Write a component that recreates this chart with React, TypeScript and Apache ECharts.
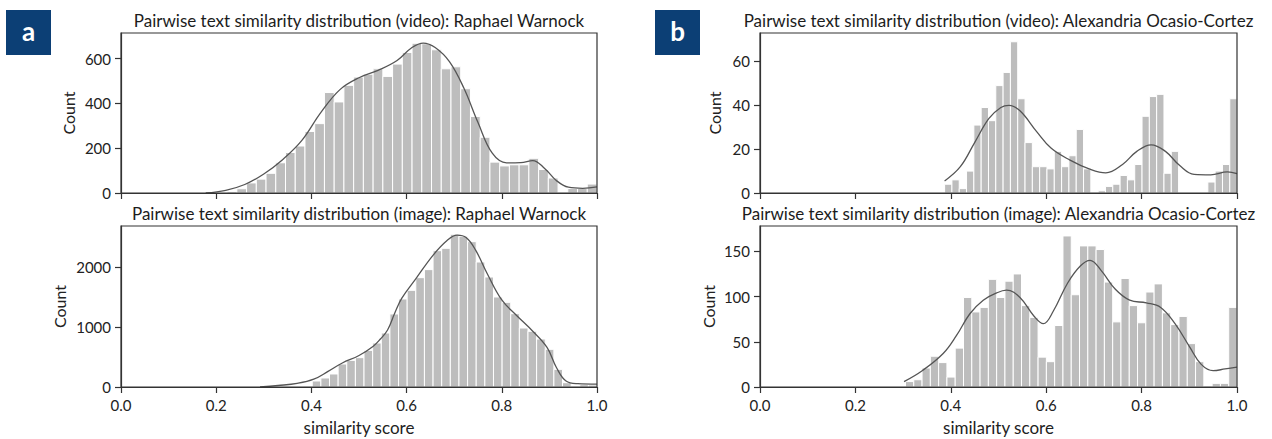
import React, { useEffect, useRef } from "react";
import * as echarts from "echarts";

// ---------- DATA ----------
// Panel a (top): video, Raphael Warnock
const warnockVideoBinStart = 0.182;
const warnockVideoBinWidth = 0.02045;
const warnockVideoCounts = [1, 2, 6, 19, 45, 62, 88, 135, 181, 210, 275, 310, 449, 407, 481, 518, 531, 555, 521, 576, 628, 669, 667, 640, 555, 564, 466, 342, 249, 138, 121, 126, 126, 155, 105, 67, 3, 20, 20, 40];
const warnockVideoKdeX = [0.178, 0.22, 0.26, 0.3, 0.34, 0.38, 0.42, 0.46, 0.5, 0.54, 0.58, 0.61, 0.635, 0.66, 0.69, 0.72, 0.75, 0.78, 0.81, 0.84, 0.865, 0.89, 0.915, 0.94, 0.97, 1.0];
const warnockVideoKdeY = [0, 12, 38, 85, 150, 235, 360, 462, 515, 548, 592, 648, 670, 650, 587, 470, 315, 178, 135, 136, 145, 110, 55, 26, 21, 27];

// Panel a (bottom): image, Raphael Warnock
const warnockImageBinStart = 0.293;
const warnockImageBinWidth = 0.01813;
const warnockImageCounts = [1, 2, 3, 5, 8, 12, 100, 150, 217, 383, 444, 489, 611, 733, 900, 1217, 1467, 1611, 1822, 1956, 2272, 2311, 2545, 2511, 2422, 2083, 1833, 1500, 1411, 1222, 983, 928, 800, 628, 294, 72, 11, 39, 33];
const warnockImageKdeX = [0.292, 0.33, 0.37, 0.405, 0.435, 0.465, 0.5, 0.53, 0.545, 0.56, 0.575, 0.59, 0.62, 0.655, 0.685, 0.706, 0.725, 0.745, 0.77, 0.8, 0.83, 0.865, 0.895, 0.915, 0.935, 0.96, 1.0];
const warnockImageKdeY = [0, 25, 60, 130, 260, 400, 525, 680, 800, 950, 1230, 1480, 1810, 2190, 2440, 2530, 2490, 2280, 1880, 1450, 1200, 930, 660, 320, 100, 55, 48];

// Panel b (top): video, Alexandria Ocasio-Cortez
const aocVideoBinStart = 0.387;
const aocVideoBinWidth = 0.01533;
const aocVideoCounts = [4, 6, 2, 10, 31, 39, 33, 49, 55, 69, 43, 23, 12, 12, 11, 19, 12, 17, 29, 11, 0, 1, 3, 4, 8, 6, 13, 35, 44, 45, 9, 19, 0, 0, 0, 0, 5, 10, 13, 43];
const aocVideoKdeX = [0.387, 0.42, 0.45, 0.48, 0.505, 0.522, 0.545, 0.58, 0.61, 0.65, 0.69, 0.725, 0.76, 0.79, 0.82, 0.85, 0.88, 0.91, 0.945, 0.98, 1.0];
const aocVideoKdeY = [5.5, 12, 23, 34, 39, 40, 37.5, 28, 20.5, 15, 11, 9.2, 13, 19, 22, 19, 12.5, 8.5, 8.3, 9.6, 8.8];

// Panel b (bottom): image, Alexandria Ocasio-Cortez
const aocImageBinStart = 0.305;
const aocImageBinWidth = 0.017375;
const aocImageCounts = [6, 8, 21, 34, 27, 11, 43, 99, 83, 88, 119, 99, 117, 125, 90, 77, 33, 28, 68, 167, 102, 156, 156, 152, 116, 72, 120, 90, 71, 105, 114, 82, 69, 78, 48, 28, 1, 4, 4, 88];
const aocImageKdeX = [0.302, 0.34, 0.384, 0.412, 0.44, 0.468, 0.496, 0.517, 0.545, 0.575, 0.594, 0.615, 0.645, 0.672, 0.692, 0.715, 0.745, 0.775, 0.81, 0.84, 0.87, 0.9, 0.925, 0.95, 0.975, 1.0];
const aocImageKdeY = [6, 18, 37, 57, 81, 96, 104, 107, 99, 78, 70, 84, 115, 134, 140, 129, 108, 96, 93, 88, 70, 45, 25, 18, 20, 22];

const xTicks = [0, 0.2, 0.4, 0.6, 0.8, 1.0];
const warnockVideoYTicks = [0, 200, 400, 600];
const warnockImageYTicks = [0, 1000, 2000];
const aocVideoYTicks = [0, 20, 40, 60];
const aocImageYTicks = [0, 50, 100, 150];

const titles = [
  "Pairwise text similarity distribution (video): Raphael Warnock",
  "Pairwise text similarity distribution (image): Raphael Warnock",
  "Pairwise text similarity distribution (video): Alexandria Ocasio-Cortez",
  "Pairwise text similarity distribution (image): Alexandria Ocasio-Cortez",
];

// ---------- LAYOUT ----------
const FONT = "Lato, 'Open Sans', sans-serif";
const panels = [
  { start: warnockVideoBinStart, width: warnockVideoBinWidth, counts: warnockVideoCounts, kx: warnockVideoKdeX, ky: warnockVideoKdeY, yTicks: warnockVideoYTicks, yMax: 715, grid: { left: 121, top: 33, width: 476, height: 160 }, bottom: false, nameGap: 45 },
  { start: warnockImageBinStart, width: warnockImageBinWidth, counts: warnockImageCounts, kx: warnockImageKdeX, ky: warnockImageKdeY, yTicks: warnockImageYTicks, yMax: 2683, grid: { left: 121, top: 226, width: 476, height: 161 }, bottom: true, nameGap: 54 },
  { start: aocVideoBinStart, width: aocVideoBinWidth, counts: aocVideoCounts, kx: aocVideoKdeX, ky: aocVideoKdeY, yTicks: aocVideoYTicks, yMax: 73, grid: { left: 760, top: 33, width: 477, height: 160 }, bottom: false, nameGap: 38 },
  { start: aocImageBinStart, width: aocImageBinWidth, counts: aocImageCounts, kx: aocImageKdeX, ky: aocImageKdeY, yTicks: aocImageYTicks, yMax: 178, grid: { left: 760, top: 226, width: 477, height: 161 }, bottom: true, nameGap: 44 },
];

export default function App() {
  const ref = useRef<HTMLDivElement>(null);
  useEffect(() => {
    if (!ref.current) return;
    const chart = echarts.init(ref.current, undefined, { renderer: "svg" });
    const axisColor = "#333";
    const textColor = "#222";

    const grid = panels.map((p) => ({
      ...p.grid,
      show: true,
      z: 5,
      backgroundColor: "transparent",
      borderColor: axisColor,
      borderWidth: 1.2,
      containLabel: false,
    }));

    const xAxis = panels.map((p, i) => ({
      type: "value",
      gridIndex: i,
      min: 0,
      max: 1,
      interval: 0.2,
      z: 6,
      axisLine: { show: true, onZero: false, lineStyle: { color: axisColor, width: 1.2 } },
      axisTick: { show: true, inside: false, length: 6, lineStyle: { color: axisColor, width: 1.2 }, customValues: xTicks },
      axisLabel: {
        show: p.bottom,
        customValues: xTicks,
        formatter: (v: number) => v.toFixed(1),
        fontSize: 15,
        fontFamily: FONT,
        color: textColor,
        margin: 10,
      },
      splitLine: { show: false },
      name: p.bottom ? "similarity score" : "",
      nameLocation: "middle",
      nameGap: 32,
      nameTextStyle: { fontSize: 17, fontFamily: FONT, color: textColor },
    }));

    const yAxis = panels.map((p, i) => ({
      type: "value",
      gridIndex: i,
      min: 0,
      max: p.yMax,
      z: 6,
      axisLine: { show: true, onZero: false, lineStyle: { color: axisColor, width: 1.2 } },
      axisTick: { show: true, inside: false, length: 6, lineStyle: { color: axisColor, width: 1.2 }, customValues: p.yTicks },
      axisLabel: {
        customValues: p.yTicks,
        formatter: (v: number) => String(v),
        fontSize: 15,
        fontFamily: FONT,
        color: textColor,
        margin: 10,
      },
      splitLine: { show: false },
      name: "Count",
      nameLocation: "middle",
      nameGap: p.nameGap,
      nameRotate: 90,
      nameTextStyle: { fontSize: 16, fontFamily: FONT, color: textColor },
    }));

    const series: any[] = [];
    panels.forEach((p, i) => {
      const binData = p.counts
        .map((c, k) => [p.start + k * p.width, p.start + (k + 1) * p.width, c])
        .filter((d) => d[2] > 0);
      series.push({
        type: "custom",
        xAxisIndex: i,
        yAxisIndex: i,
        silent: true,
        z: 2,
        encode: { x: [0, 1], y: 2 },
        data: binData,
        renderItem: (params: any, api: any) => {
          const a = api.coord([api.value(0), api.value(2)]);
          const b = api.coord([api.value(1), 0]);
          return {
            type: "rect",
            shape: { x: a[0], y: a[1], width: b[0] - a[0], height: b[1] - a[1] },
            style: { fill: "#bdbdbd", stroke: "#ffffff", lineWidth: 1 },
          };
        },
      });
      series.push({
        type: "line",
        xAxisIndex: i,
        yAxisIndex: i,
        silent: true,
        z: 3,
        data: p.kx.map((x, j) => [x, p.ky[j]]),
        smooth: 0.4,
        showSymbol: false,
        lineStyle: { color: "#555555", width: 1.3 },
      });
    });

    const graphic: any[] = [];
    panels.forEach((p, i) => {
      graphic.push({
        type: "text",
        x: p.grid.left + p.grid.width / 2,
        y: p.grid.top - 13,
        style: { text: titles[i], font: `17px ${FONT}`, fill: "#1c1c1c", align: "center", verticalAlign: "middle" },
      });
    });
    [
      { label: "a", x: 6 },
      { label: "b", x: 655 },
    ].forEach((b) => {
      graphic.push({ type: "rect", shape: { x: b.x, y: 10, width: 45, height: 45 }, style: { fill: "#0c3f75" } });
      graphic.push({
        type: "text",
        x: b.x + 22.5,
        y: 31,
        style: { text: b.label, font: `bold 26px ${FONT}`, fill: "#ffffff", align: "center", verticalAlign: "middle" },
      });
    });

    chart.setOption({
      animation: false,
      backgroundColor: "#ffffff",
      grid,
      xAxis,
      yAxis,
      series,
      graphic,
    });
    return () => chart.dispose();
  }, []);
  return <div ref={ref} style={{ position: "fixed", left: 0, top: 0, width: 1272, height: 439 }} />;
}
